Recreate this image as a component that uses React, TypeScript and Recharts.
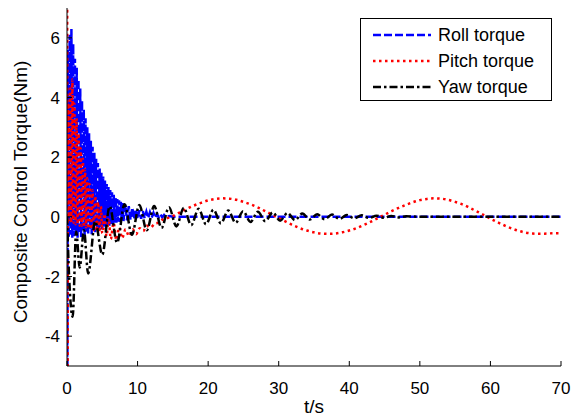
import React from "react";
import { LineChart, Line, XAxis, YAxis, Legend } from "recharts";

const FONT = '"Liberation Sans", Arial, sans-serif';

const xTicks = [0, 10, 20, 30, 40, 50, 60, 70];
const yTicks = [-4, -2, 0, 2, 4, 6];

// roll torque: fast decaying oscillation
const rollTime = [
  0, 0.05, 0.125, 0.25, 0.375, 0.5, 0.625, 0.75, 0.875, 1, 1.125, 1.25, 1.375, 1.5, 1.625, 1.75, 1.875, 2,
  2.125, 2.25, 2.375, 2.5, 2.625, 2.75, 2.875, 3, 3.125, 3.25, 3.375, 3.5, 3.625, 3.75, 3.875, 4,
  4.125, 4.25, 4.375, 4.5, 4.625, 4.75, 4.875, 5, 5.125, 5.25, 5.375, 5.5, 5.625, 5.75, 5.875, 6,
  6.125, 6.25, 6.375, 6.5, 6.625, 6.75, 6.875, 7, 7.125, 7.25, 7.375, 7.5, 7.625, 7.75, 7.875, 8,
  8.25, 8.5, 8.75, 9, 9.25, 9.5, 9.75, 10, 10.25, 10.5, 10.75, 11, 11.25, 11.5, 11.75, 12,
  12.25, 12.5, 12.75, 13, 13.25, 13.5, 13.75, 14, 14.5, 15, 70,
];
const rollTorque = [
  0, -6, 5.6, -0.7, 6.1, -0.6, 6.3, -0.7, 5.8, -0.65, 5.3, -0.5, 5.0, -0.7, 4.6, -0.55, 4.3, -0.68,
  3.9, -0.5, 3.6, -0.66, 3.3, -0.5, 3.0, -0.6, 2.8, -0.45, 2.55, -0.58, 2.35, -0.45, 2.15, -0.52,
  1.95, -0.4, 1.8, -0.47, 1.62, -0.36, 1.48, -0.42, 1.35, -0.32, 1.22, -0.36, 1.1, -0.28, 1.0, -0.3,
  0.9, -0.24, 0.82, -0.25, 0.74, -0.2, 0.66, -0.2, 0.6, -0.16, 0.55, -0.17, 0.5, -0.14, 0.46, -0.14,
  0.42, -0.12, 0.36, -0.1, 0.31, -0.08, 0.26, -0.07, 0.22, -0.06, 0.19, -0.05, 0.17, -0.04, 0.15, -0.03,
  0.13, -0.03, 0.1, -0.02, 0.08, -0.02, 0.06, -0.01, 0.03, 0, 0,
];

// pitch torque: decaying oscillation, then a slow swing
const pitchTime = [
  0, 0.02, 0.06, 0.15, 0.3, 0.45, 0.6, 0.75, 0.9, 1.05, 1.2, 1.35, 1.5, 1.65, 1.8, 1.95, 2.1, 2.25,
  2.4, 2.55, 2.7, 2.85, 3, 3.2, 3.4, 3.6, 3.8, 4, 4.2, 4.4, 4.6, 4.8, 5, 5.3, 5.6, 5.9, 6.2, 6.6,
  7, 7.4, 7.8, 8.3, 8.8, 9.3, 9.8, 10.3, 10.8, 11.3, 11.8, 12.5, 13, 13.5, 14, 15,
  16, 17, 18, 19, 20, 21, 22, 23, 24, 25, 26, 27, 28, 29, 30, 31, 32, 33, 34, 35, 36, 37, 38, 39,
  40, 41, 42, 43, 44, 45, 46, 47, 48, 49, 50, 51, 52, 53, 54, 55, 56, 57, 58, 59, 60, 61, 62, 63,
  64, 65, 66, 67, 68, 69, 70,
];
const pitchTorque = [
  0, 9, -9, 3.8, -0.1, 4.3, -0.2, 4.6, -0.2, 3.8, -0.25, 3.3, -0.25, 2.8, -0.3, 2.3, -0.3, 1.95,
  -0.35, 1.6, -0.35, 1.3, -0.4, 1.1, -0.42, 0.9, -0.45, 0.7, -0.48, 0.5, -0.52, 0.35, -0.55, 0.1, -0.65, -0.05, -0.75, -0.2,
  -0.78, -0.35, -0.72, -0.42, -0.65, -0.42, -0.58, -0.38, -0.48, -0.3, -0.36, -0.22, -0.2, -0.1, -0.06, 0.03,
  0.15, 0.27, 0.38, 0.47, 0.55, 0.6, 0.62, 0.61, 0.57, 0.5, 0.42, 0.32, 0.2, 0.08, -0.04, -0.16, -0.28, -0.38, -0.46, -0.52, -0.56, -0.57, -0.56, -0.52,
  -0.46, -0.38, -0.28, -0.17, -0.05, 0.07, 0.19, 0.3, 0.4, 0.49, 0.56, 0.6, 0.62, 0.61, 0.57, 0.5, 0.42, 0.31, 0.19, 0.07, -0.06, -0.18, -0.29, -0.39,
  -0.47, -0.53, -0.56, -0.57, -0.56, -0.55, -0.55,
];

// yaw torque: large negative dips, slowly decaying ripple
const yawTime = [
  0, 0.3, 0.8, 1.3, 1.8, 2.4, 3, 4, 5, 6.05, 7.1, 8.15, 9.2, 10.25, 11.3, 12.35, 13.4, 14.45,
  15.5, 16.55, 17.6, 18.65, 19.7, 20.75, 21.8, 22.85, 23.9, 24.95, 26, 27.05, 28.1, 29.15, 30.2,
  31.25, 32.3, 33.35, 34.4, 35.45, 36.5, 37.55, 38.6, 39.65, 40.7, 41.75, 42.8, 43.85, 44.9, 45.95,
  47, 48.05, 50, 70,
];
const yawTorque = [
  0, -2.0, -3.35, -0.5, -1.7, -0.45, -1.9, -0.15, -1.27, 0.35, -0.87, 0.42, -0.6, 0.4, -0.45, 0.36, -0.37, 0.32,
  -0.32, 0.3, -0.28, 0.27, -0.25, 0.24, -0.22, 0.21, -0.2, 0.19, -0.17, 0.17, -0.15, 0.15, -0.13,
  0.13, -0.11, 0.11, -0.09, 0.09, -0.08, 0.08, -0.07, 0.06, -0.05, 0.05, -0.04, 0.04, -0.03, 0.03,
  -0.02, 0.02, 0, 0,
];

const toPoints = (time: number[], value: number[]) => time.map((t, i) => ({ t, v: value[i] }));

const series = [
  { name: "Roll torque", color: "#0000ff", dash: "8 3", curve: "linear", data: toPoints(rollTime, rollTorque) },
  { name: "Pitch torque", color: "#ff0000", dash: "2.5 3.5", curve: "monotone", data: toPoints(pitchTime, pitchTorque) },
  { name: "Yaw torque", color: "#000000", dash: "8 3 2.5 3", curve: "monotone", data: toPoints(yawTime, yawTorque) },
];

function BottomTick({ x, y, payload }: any) {
  return (
    <g>
      <line x1={x} x2={x} y1={y} y2={y - 5} stroke="#000" />
      <text x={x} y={y + 28} textAnchor="middle" fontSize={17} fontFamily={FONT} fill="#000">
        {payload.value}
      </text>
    </g>
  );
}

function LeftTick({ x, y, payload }: any) {
  return (
    <g>
      <line x1={x} x2={x + 5} y1={y} y2={y} stroke="#000" />
      <text x={x - 7} y={y} dy="0.36em" textAnchor="end" fontSize={17} fontFamily={FONT} fill="#000">
        {payload.value}
      </text>
    </g>
  );
}

function TopTick({ x, y }: any) {
  return <line x1={x} x2={x} y1={y} y2={y + 5} stroke="#000" />;
}

function RightTick({ x, y }: any) {
  return <line x1={x} x2={x - 5} y1={y} y2={y} stroke="#000" />;
}

function YTitle({ viewBox }: any) {
  const cx = 27;
  const cy = viewBox.y + viewBox.height / 2 + 5;
  return (
    <text x={cx} y={cy} transform={`rotate(-90, ${cx}, ${cy})`} textAnchor="middle" fontSize={19} fontFamily={FONT} fill="#000">
      Composite Control Torque(Nm)
    </text>
  );
}

function XTitle({ viewBox }: any) {
  const cx = viewBox.x + viewBox.width / 2;
  return (
    <text x={cx} y={413} textAnchor="middle" fontSize={19} fontFamily={FONT} fill="#000">
      t/s
    </text>
  );
}

// legend keeps the plotting order, not the alphabetical one
function LegendBox() {
  return (
    <svg width={192} height={83} style={{ display: "block" }}>
      <rect x={0.5} y={0.5} width={191} height={82} fill="#fff" stroke="#000" />
      {series.map((s, i) => {
        const cy = 17 + i * 26;
        return (
          <g key={s.name}>
            <line x1={13} x2={71} y1={cy} y2={cy} stroke={s.color} strokeWidth={2.5} strokeDasharray={s.dash} />
            <text x={78} y={cy} dy="0.36em" fontSize={18} fontFamily={FONT} fill="#000">
              {s.name}
            </text>
          </g>
        );
      })}
    </svg>
  );
}

export default function App() {
  return (
    <div style={{ position: "absolute", left: 0, top: 0, background: "#fff" }}>
      <LineChart width={581} height={418} margin={{ top: 8, right: 20, bottom: 0, left: 0 }}>
        <XAxis
          dataKey="t"
          type="number"
          domain={[0, 70]}
          ticks={xTicks}
          allowDataOverflow
          height={52}
          tickSize={0}
          tickMargin={0}
          tickLine={false}
          tick={<BottomTick />}
          axisLine={{ stroke: "#000" }}
          label={XTitle}
        />
        <XAxis
          xAxisId="top"
          orientation="top"
          dataKey="t"
          type="number"
          domain={[0, 70]}
          ticks={xTicks}
          allowDataOverflow
          height={0}
          tickSize={0}
          tickMargin={0}
          tickLine={false}
          tick={<TopTick />}
          axisLine={{ stroke: "#000" }}
        />
        <YAxis
          type="number"
          domain={[-5, 7]}
          ticks={yTicks}
          allowDataOverflow
          width={67}
          tickSize={0}
          tickMargin={0}
          tickLine={false}
          tick={<LeftTick />}
          axisLine={{ stroke: "#000" }}
          label={YTitle}
        />
        <YAxis
          yAxisId="right"
          orientation="right"
          type="number"
          domain={[-5, 7]}
          ticks={yTicks}
          allowDataOverflow
          width={0}
          tickSize={0}
          tickMargin={0}
          tickLine={false}
          tick={<RightTick />}
          axisLine={{ stroke: "#000" }}
        />
        <Legend
          layout="vertical"
          verticalAlign="middle"
          align="center"
          content={<LegendBox />}
          wrapperStyle={{ left: 360, top: 18, width: 192, height: 83 }}
        />
        {series.map((s) => (
          <Line
            key={s.name}
            name={s.name}
            data={s.data}
            dataKey="v"
            type={s.curve as any}
            stroke={s.color}
            strokeWidth={2.5}
            strokeDasharray={s.dash}
            strokeLinecap="butt"
            dot={false}
            activeDot={false}
            isAnimationActive={false}
          />
        ))}
      </LineChart>
    </div>
  );
}
